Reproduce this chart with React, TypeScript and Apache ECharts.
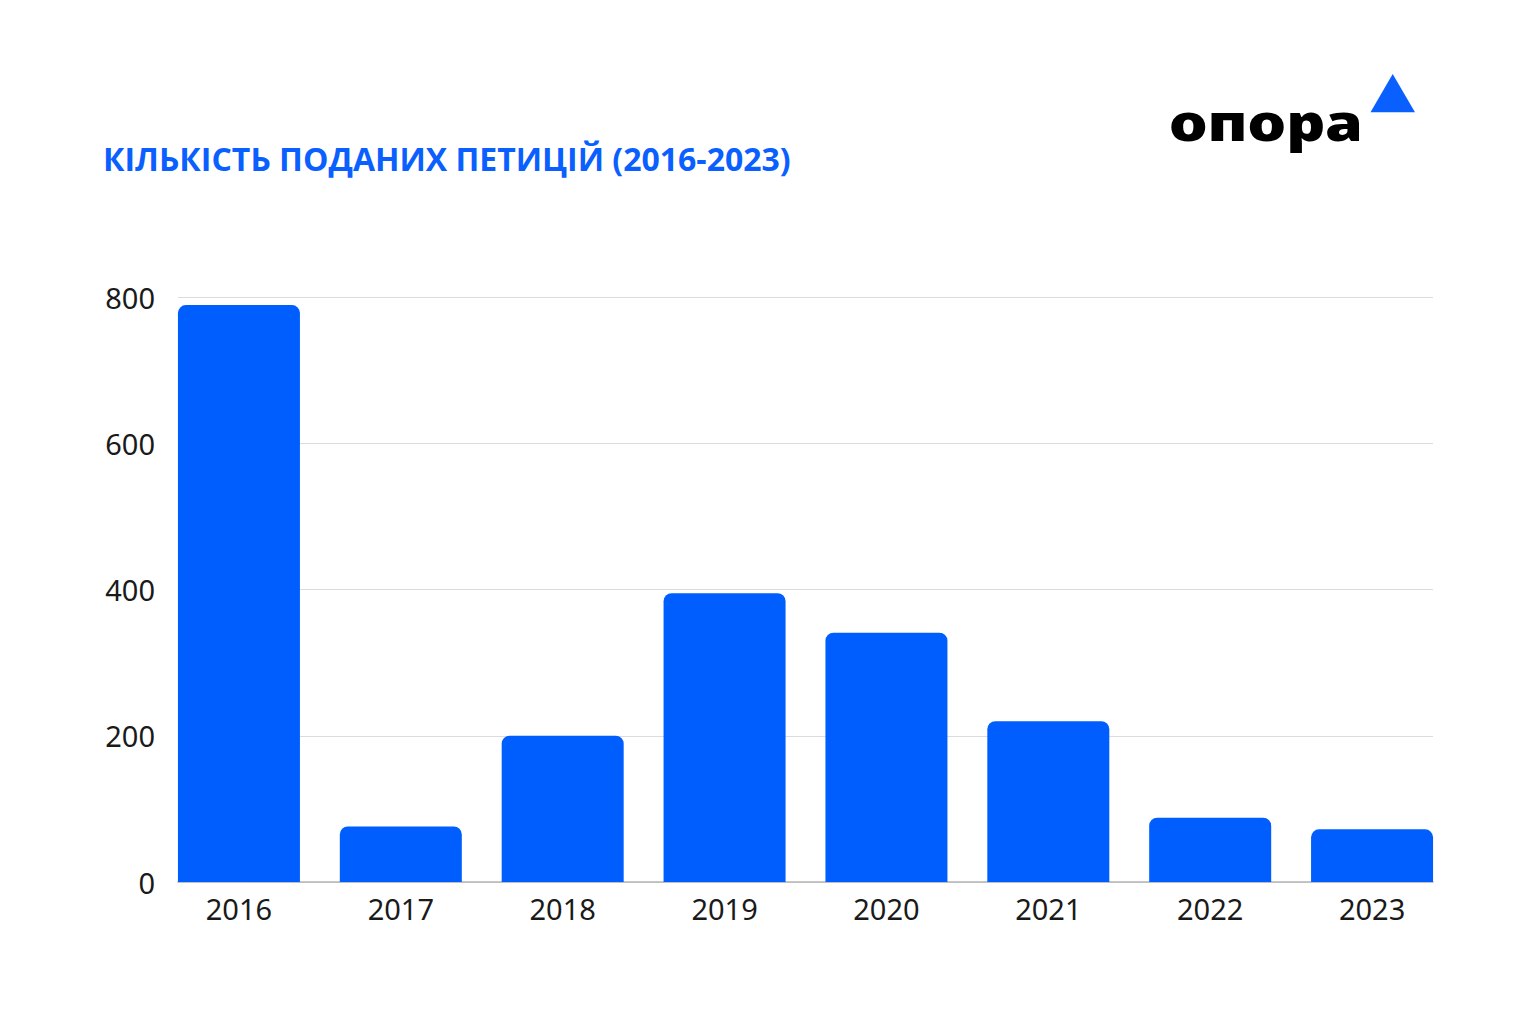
import React, { useEffect, useRef } from "react";
import * as echarts from "echarts";

const categories = ["2016", "2017", "2018", "2019", "2020", "2021", "2022", "2023"];
const petitions = [789, 76, 200, 395, 341, 220, 88, 72];
const yTicks = [0, 200, 400, 600, 800];
const titleText = "КІЛЬКІСТЬ ПОДАНИХ ПЕТИЦІЙ (2016-2023)";
const logoText = "опора";

export default function App() {
  const ref = useRef<HTMLDivElement>(null);
  useEffect(() => {
    document.body.style.margin = "0";
    const chart = echarts.init(ref.current!, null, { renderer: "svg" });
    const yMin = yTicks[0];
    const yMax = yTicks[yTicks.length - 1];
    chart.setOption({
      animation: false,
      backgroundColor: "#ffffff",
      title: {
        text: titleText,
        left: 103,
        top: 142,
        padding: 0,
        textStyle: {
          fontFamily: "Open Sans",
          fontWeight: "bold",
          fontSize: 32,
          color: "#0A5FFF",
        },
      },
      graphic: [
        {
          type: "text",
          x: 1169,
          y: 121,
          scaleX: 1.22,
          style: {
            text: logoText,
            font: "900 50px 'Noto Sans'",
            fill: "#000000",
            verticalAlign: "middle",
            align: "left",
          },
        },
        {
          type: "polygon",
          shape: {
            points: [
              [1392.7, 74],
              [1370.5, 112.3],
              [1415, 112.3],
            ],
          },
          style: { fill: "#0A5FFF" },
        },
      ],
      grid: [
        { left: 178, right: 103, top: 297, bottom: 142 },
        { left: 158, right: 83, top: 297, bottom: 142 },
      ],
      xAxis: [
        {
          type: "category",
          gridIndex: 0,
          data: categories,
          axisTick: { show: false },
          axisLabel: { show: false },
          axisLine: { lineStyle: { color: "#b5b5b5", width: 1.5 } },
          z: 1,
        },
        {
          type: "category",
          gridIndex: 1,
          data: categories,
          axisTick: { show: false },
          axisLine: { show: false },
          axisLabel: {
            margin: 12,
            fontFamily: "Noto Sans",
            fontSize: 29,
            color: "#1a1a1a",
          },
        },
      ],
      yAxis: [
        {
          type: "value",
          gridIndex: 0,
          min: yMin,
          max: yMax,
          interval: 200,
          axisLine: { show: false },
          axisTick: { show: false },
          splitLine: { lineStyle: { color: "#dcdcdc", width: 1 } },
          axisLabel: {
            margin: 23,
            fontFamily: "Noto Sans",
            fontSize: 29,
            color: "#1a1a1a",
          },
        },
        {
          type: "value",
          gridIndex: 1,
          min: yMin,
          max: yMax,
          interval: 200,
          show: false,
        },
      ],
      series: [
        {
          type: "bar",
          xAxisIndex: 1,
          yAxisIndex: 1,
          data: petitions,
          barWidth: 122,
          z: 3,
          itemStyle: { color: "#005EFF", borderRadius: [8, 8, 0, 0] },
        },
      ],
    });
    return () => chart.dispose();
  }, []);
  return (
    <div
      ref={ref}
      style={{ position: "absolute", left: 0, top: 0, width: 1536, height: 1024 }}
    />
  );
}
